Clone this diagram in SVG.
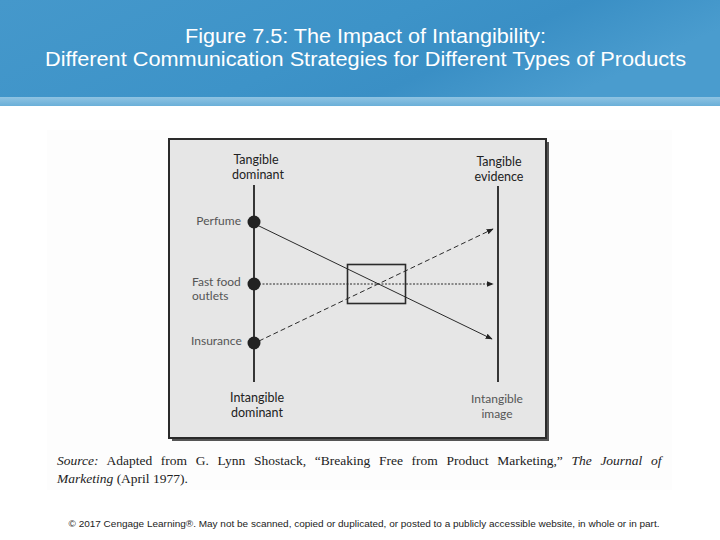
<svg xmlns="http://www.w3.org/2000/svg" width="720" height="540" viewBox="0 0 720 540">
<defs>
<linearGradient id="hdr" x1="0" y1="0" x2="1" y2="0.3">
<stop offset="0" stop-color="#4598cb"/>
<stop offset="0.55" stop-color="#3d93c8"/>
<stop offset="0.75" stop-color="#3a8fc5"/>
<stop offset="1" stop-color="#4a9cce"/>
</linearGradient>
<linearGradient id="strip" x1="0" y1="0" x2="0" y2="1">
<stop offset="0" stop-color="#8fc3e2"/>
<stop offset="1" stop-color="#6aafd8"/>
</linearGradient>
<marker id="ah" viewBox="0 0 10 10" refX="9" refY="5" markerWidth="7" markerHeight="7" orient="auto" markerUnits="userSpaceOnUse">
<path d="M0,1 L10,5 L0,9 Z" fill="#222"/>
</marker>
<style>
.lbl{font-family:Lato,"Liberation Sans",sans-serif;font-size:12px;fill:#555}
.hd{font-family:Lato,"Liberation Sans",sans-serif;font-size:12.5px;fill:#222}
.ttl{font-family:"Liberation Sans",Arial,sans-serif;font-size:19.5px;fill:#fff}
.src{font-family:"Liberation Serif","Times New Roman",serif;font-size:13.5px;fill:#222}
.conn{stroke:#2a2a2a;stroke-width:1;fill:none}
</style>
</defs>
<rect width="720" height="540" fill="#ffffff"/>
<rect x="0" y="0" width="720" height="97" fill="url(#hdr)"/>
<rect x="0" y="97" width="720" height="9" fill="url(#strip)"/>
<text class="ttl" x="365.5" y="43" text-anchor="middle" textLength="361" lengthAdjust="spacingAndGlyphs">Figure 7.5: The Impact of Intangibility:</text>
<text class="ttl" x="365.5" y="66" text-anchor="middle" textLength="641" lengthAdjust="spacingAndGlyphs">Different Communication Strategies for Different Types of Products</text>

<rect x="47" y="130" width="625" height="360" fill="#fdfdfd"/>
<rect x="172" y="142" width="377" height="299" fill="#555"/>
<rect x="169" y="139" width="377" height="299" fill="#e6e6e6" stroke="#2a2a2a" stroke-width="2"/>

<g id="axis-left">
<line x1="254" y1="185" x2="254" y2="382" stroke="#222" stroke-width="1.8"/>
</g>
<g id="axis-right">
<line x1="498" y1="186" x2="498" y2="382" stroke="#222" stroke-width="1.8"/>
</g>

<g id="connectors">
<line class="conn" x1="259" y1="226" x2="492" y2="339" marker-end="url(#ah)"/>
<line class="conn" x1="259" y1="284" x2="493" y2="284" stroke-dasharray="2 1.5" marker-end="url(#ah)"/>
<line class="conn" x1="259" y1="341" x2="493" y2="229" stroke-dasharray="5 3" marker-end="url(#ah)"/>
</g>

<g id="center-box">
<rect x="347.5" y="264.5" width="58" height="39" fill="none" stroke="#2a2a2a" stroke-width="1.6"/>
</g>

<g id="tangible-dominant">
<text class="hd" x="256" y="164" text-anchor="middle">Tangible</text>
<text class="hd" x="258" y="179" text-anchor="middle">dominant</text>
</g>
<g id="tangible-evidence">
<text class="hd" x="499" y="166" text-anchor="middle">Tangible</text>
<text class="hd" x="499" y="181" text-anchor="middle">evidence</text>
</g>
<g id="perfume">
<circle cx="254" cy="222" r="6.5" fill="#222"/>
<text class="lbl" x="241" y="225" text-anchor="end">Perfume</text>
</g>
<g id="fast-food">
<circle cx="254" cy="284" r="6.5" fill="#222"/>
<text class="lbl" x="192" y="286">Fast food</text>
<text class="lbl" x="192" y="300">outlets</text>
</g>
<g id="insurance">
<circle cx="254" cy="343" r="6.5" fill="#222"/>
<text class="lbl" x="191" y="345">Insurance</text>
</g>
<g id="intangible-dominant">
<text class="hd" x="257" y="402" text-anchor="middle">Intangible</text>
<text class="hd" x="257" y="417" text-anchor="middle">dominant</text>
</g>
<g id="intangible-image">
<text class="lbl" x="497" y="403" text-anchor="middle" font-size="12.5">Intangible</text>
<text class="lbl" x="497" y="418" text-anchor="middle" font-size="12.5">image</text>
</g>

<text class="src" x="57" y="465" word-spacing="5.3"><tspan font-style="italic">Source:</tspan> Adapted from G. Lynn Shostack, “Breaking Free from Product Marketing,” <tspan font-style="italic">The Journal of</tspan></text>
<text class="src" x="57" y="483"><tspan font-style="italic">Marketing</tspan> (April 1977).</text>

<text x="364" y="527" text-anchor="middle" font-family="'Liberation Sans',Arial,sans-serif" font-size="9.5" fill="#222" textLength="591" lengthAdjust="spacingAndGlyphs">© 2017 Cengage Learning®. May not be scanned, copied or duplicated, or posted to a publicly accessible website, in whole or in part.</text>
</svg>
